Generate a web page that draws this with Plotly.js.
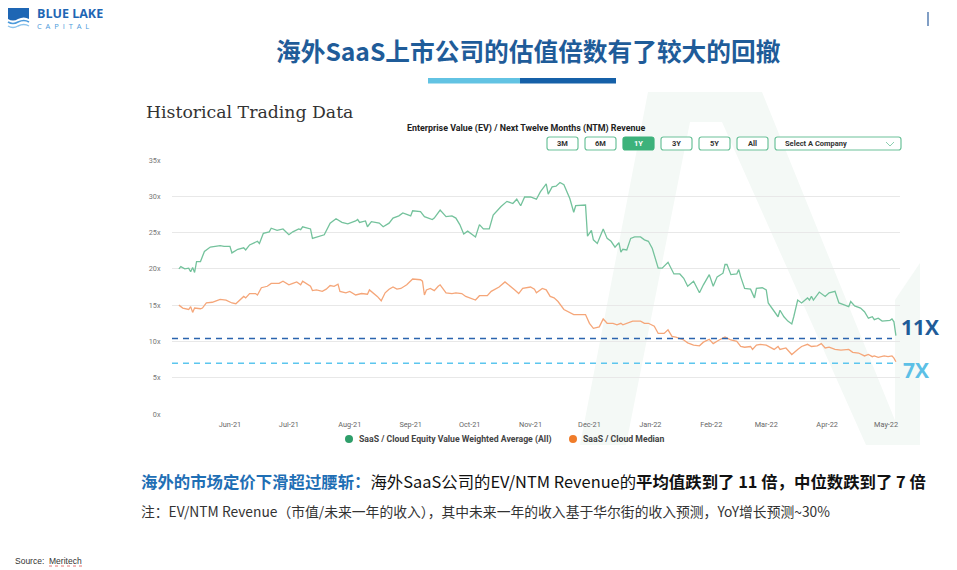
<!DOCTYPE html>
<html><head><meta charset="utf-8">
<script src="https://cdn.plot.ly/plotly-3.0.1.min.js"></script>
<style>html,body{margin:0;padding:0;background:#fff}#c{width:957px;height:570px}</style>
</head><body><div id="c"></div>
<script>
// ---------------- DATA ----------------
const seriesNames = ['SaaS / Cloud Equity Value Weighted Average (All)', 'SaaS / Cloud Median'];
const monthTickStart = '2021-06-01';

const avgDates = ['2021-05-06','2021-05-07','2021-05-09','2021-05-11','2021-05-12','2021-05-13','2021-05-14','2021-05-15','2021-05-17','2021-05-18','2021-05-19','2021-05-22','2021-05-24','2021-05-27','2021-05-29',
'2021-06-01','2021-06-02','2021-06-05','2021-06-08','2021-06-09','2021-06-11','2021-06-15','2021-06-16','2021-06-18','2021-06-21','2021-06-22','2021-06-25','2021-06-28',
'2021-07-01','2021-07-03','2021-07-06','2021-07-07','2021-07-08','2021-07-12','2021-07-13','2021-07-16','2021-07-19','2021-07-22','2021-07-25','2021-07-28','2021-07-31',
'2021-08-04','2021-08-05','2021-08-06','2021-08-09','2021-08-10','2021-08-12','2021-08-16','2021-08-18','2021-08-21','2021-08-23','2021-08-26','2021-08-28','2021-08-30',
'2021-09-01','2021-09-02','2021-09-06','2021-09-08','2021-09-12','2021-09-13','2021-09-16','2021-09-19','2021-09-22','2021-09-24','2021-09-26','2021-09-28','2021-09-30',
'2021-10-04','2021-10-06','2021-10-08','2021-10-11','2021-10-13','2021-10-17','2021-10-20','2021-10-23','2021-10-25','2021-10-27','2021-10-29',
'2021-11-01','2021-11-04','2021-11-06','2021-11-09','2021-11-10','2021-11-12','2021-11-14','2021-11-16','2021-11-18','2021-11-21','2021-11-23','2021-11-24','2021-11-29','2021-11-30',
'2021-12-02','2021-12-03','2021-12-05','2021-12-08','2021-12-10','2021-12-12','2021-12-14','2021-12-16','2021-12-17','2021-12-18','2021-12-20','2021-12-22','2021-12-24','2021-12-27','2021-12-29','2021-12-31',
'2022-01-02','2022-01-05','2022-01-07','2022-01-10','2022-01-13','2022-01-16','2022-01-18','2022-01-20','2022-01-23','2022-01-26','2022-01-28','2022-01-31',
'2022-02-02','2022-02-04','2022-02-07','2022-02-08','2022-02-09','2022-02-11','2022-02-14','2022-02-15','2022-02-16','2022-02-18','2022-02-21','2022-02-23','2022-02-24','2022-02-27',
'2022-03-01','2022-03-02','2022-03-05','2022-03-07','2022-03-08','2022-03-10','2022-03-12','2022-03-14','2022-03-15','2022-03-17','2022-03-19','2022-03-22','2022-03-23','2022-03-24','2022-03-25','2022-03-28','2022-03-31',
'2022-04-02','2022-04-05','2022-04-07','2022-04-09','2022-04-12','2022-04-13','2022-04-15','2022-04-18','2022-04-20','2022-04-22','2022-04-24','2022-04-25','2022-04-27','2022-04-29',
'2022-05-01','2022-05-03','2022-05-04','2022-05-05','2022-05-06'];
const avgValues = [20.0,20.3,20.0,20.1,19.6,20.2,19.5,21.0,21.0,21.8,22.4,23.0,23.1,23.2,23.1,
23.1,22.2,22.7,22.9,22.6,23.3,23.8,23.5,24.9,25.1,25.6,25.3,25.5,
24.7,25.1,25.5,25.4,25.8,25.5,24.2,24.4,24.7,26.3,26.9,26.4,26.2,
26.6,26.8,26.4,26.6,25.8,26.5,26.3,25.8,26.3,27.0,27.3,27.7,27.5,
27.3,28.0,27.9,27.2,26.8,27.0,28.1,27.2,27.3,27.0,26.1,24.8,25.2,
24.4,26.1,25.5,25.5,27.4,28.6,29.3,29.0,29.6,28.7,29.9,
29.9,29.6,30.6,31.7,30.3,31.3,31.4,31.9,31.6,29.7,27.8,28.7,28.8,24.5,
25.3,24.0,23.5,25.5,24.2,23.8,23.0,23.6,22.3,22.7,22.6,24.2,24.4,24.4,24.0,23.8,
22.8,20.1,20.1,20.9,19.3,19.3,18.7,17.6,18.3,16.7,17.8,19.2,
17.6,18.9,19.4,20.6,20.6,19.2,19.3,19.9,18.9,17.3,17.2,16.0,17.3,17.4,
17.1,15.3,14.1,13.4,14.3,13.4,12.8,12.4,13.4,15.7,15.3,16.0,15.7,16.2,15.7,16.8,16.2,
16.7,16.9,15.3,15.1,14.8,15.5,14.9,14.6,14.1,13.2,13.4,13.0,13.2,12.8,
12.8,12.9,13.1,12.7,10.8];

const medDates = ['2021-05-06','2021-05-08','2021-05-11','2021-05-12','2021-05-13','2021-05-14','2021-05-17','2021-05-18','2021-05-20','2021-05-23','2021-05-25','2021-05-27','2021-05-30',
'2021-06-02','2021-06-04','2021-06-06','2021-06-08','2021-06-09','2021-06-11','2021-06-14','2021-06-15','2021-06-17','2021-06-20','2021-06-22','2021-06-26','2021-06-28',
'2021-07-01','2021-07-03','2021-07-05','2021-07-07','2021-07-08','2021-07-12','2021-07-13','2021-07-15','2021-07-18','2021-07-20','2021-07-22','2021-07-24','2021-07-26','2021-07-27','2021-07-30',
'2021-08-01','2021-08-03','2021-08-04','2021-08-07','2021-08-10','2021-08-11','2021-08-12','2021-08-15','2021-08-17','2021-08-19','2021-08-21','2021-08-23','2021-08-25','2021-08-27','2021-08-30',
'2021-09-02','2021-09-06','2021-09-07','2021-09-08','2021-09-09','2021-09-11','2021-09-13','2021-09-15','2021-09-16','2021-09-19','2021-09-22','2021-09-24','2021-09-27','2021-09-29',
'2021-10-04','2021-10-06','2021-10-10','2021-10-12','2021-10-16','2021-10-19','2021-10-22','2021-10-24','2021-10-26','2021-10-28',
'2021-11-01','2021-11-03','2021-11-04','2021-11-07','2021-11-09','2021-11-11','2021-11-13','2021-11-15','2021-11-18','2021-11-23','2021-11-25','2021-11-29',
'2021-12-01','2021-12-03','2021-12-06','2021-12-08','2021-12-10','2021-12-13','2021-12-15','2021-12-17','2021-12-18','2021-12-21','2021-12-23','2021-12-27','2021-12-29','2021-12-31',
'2022-01-03','2022-01-05','2022-01-08','2022-01-10','2022-01-12','2022-01-14','2022-01-18','2022-01-20','2022-01-23','2022-01-26','2022-01-28','2022-01-31',
'2022-02-02','2022-02-05','2022-02-08','2022-02-11','2022-02-14','2022-02-16','2022-02-18','2022-02-21','2022-02-22','2022-02-24','2022-02-26',
'2022-03-01','2022-03-05','2022-03-07','2022-03-08','2022-03-11','2022-03-14','2022-03-17','2022-03-19','2022-03-22','2022-03-24','2022-03-27','2022-03-29','2022-03-31',
'2022-04-02','2022-04-05','2022-04-08','2022-04-12','2022-04-14','2022-04-17','2022-04-20','2022-04-22','2022-04-24','2022-04-25','2022-04-27','2022-04-30',
'2022-05-02','2022-05-04','2022-05-05','2022-05-06'];
const medValues = [15.0,14.6,14.4,14.8,14.0,14.6,14.5,14.6,15.3,15.4,15.6,15.8,15.7,
15.3,15.2,15.7,16.2,16.0,16.6,16.6,16.4,17.4,17.6,18.0,18.0,18.3,
17.8,18.0,18.2,17.8,18.3,17.6,17.0,17.1,16.9,17.2,17.7,17.6,17.9,16.9,16.7,
16.9,16.5,16.4,16.6,16.5,17.1,16.9,16.2,15.6,16.7,17.2,17.5,17.2,17.3,17.8,
18.6,18.5,18.3,16.4,17.1,17.3,17.0,17.6,17.8,16.7,16.6,16.7,16.6,16.2,
15.7,16.3,16.3,16.9,17.5,18.2,17.6,17.1,16.6,17.3,
17.5,17.2,16.7,17.3,17.1,16.2,16.0,15.5,14.4,13.7,13.7,13.7,
12.5,11.8,12.0,13.1,12.5,12.5,12.3,12.5,12.3,12.6,12.8,12.8,12.5,12.5,
12.1,11.1,11.1,11.6,10.7,10.6,10.2,9.8,9.5,9.4,9.9,10.3,
9.7,10.2,10.6,10.2,10.0,9.3,9.2,9.3,8.9,9.5,9.6,
9.5,8.9,9.3,8.9,9.1,8.2,8.9,9.3,9.6,9.3,9.4,9.7,9.1,
9.2,8.9,8.8,8.9,8.5,8.4,8.0,8.2,7.9,8.0,7.8,8.0,
7.9,8.0,7.7,7.2];

const avgLevel = 10.4;   // dashed "11X" line
const medLevel = 7.0;    // dashed "7X" line
const levelLabels = ['11X', '7X'];
const rangeButtons = ['3M', '6M', '1Y', '3Y', '5Y', 'All'];
const activeButton = '1Y';

// ---------------- HELPERS ----------------
const W = 957, H = 570;
const X = v => v / W, Y = v => 1 - v / H;
function rr(x0, y0, x1, y1, r) {
  const p = (x, y) => X(x) + ',' + Y(y);
  return 'M' + p(x0 + r, y0) + ' L' + p(x1 - r, y0) + ' Q' + p(x1, y0) + ' ' + p(x1, y0 + r) +
    ' L' + p(x1, y1 - r) + ' Q' + p(x1, y1) + ' ' + p(x1 - r, y1) + ' L' + p(x0 + r, y1) +
    ' Q' + p(x0, y1) + ' ' + p(x0, y1 - r) + ' L' + p(x0, y0 + r) + ' Q' + p(x0, y0) + ' ' + p(x0 + r, y0) + ' Z';
}
function poly(pts) { return 'M' + pts.map(q => X(q[0]) + ',' + Y(q[1])).join(' L') + ' Z'; }
function pth(str) {
  return str.replace(/(-?\d+\.?\d*),(-?\d+\.?\d*)/g, (m, a, b) => X(+a) + ',' + Y(+b));
}

const CJK = '"Noto Sans CJK SC", "Noto Sans", sans-serif';
const RB = 'Roboto, "Open Sans", sans-serif';

const shapes = [];
const ann = [];

// watermark (very faint)
const wm = '#F4F9F6';
shapes.push({type: 'path', xref: 'paper', yref: 'paper', layer: 'below',
  path: poly([[580, 445], [648, 92], [762, 92], [905, 445], [866, 445], [722, 122], [690, 122], [626, 445]]), fillcolor: wm, line: {width: 0}});
shapes.push({type: 'path', xref: 'paper', yref: 'paper', layer: 'below',
  path: poly([[895, 300], [920, 263], [920, 445], [895, 445]]), fillcolor: wm, line: {width: 0}});

// logo
shapes.push({type: 'path', xref: 'paper', yref: 'paper', path: pth('M8,8 L29,8 L29,19 Q24,16 18,19 Q13,22 8,19 Z'), fillcolor: '#1E66B4', line: {width: 0}});
shapes.push({type: 'path', xref: 'paper', yref: 'paper', path: pth('M8,22 Q13,25 18,22 Q24,19 29,22'), line: {color: '#4C9ADB', width: 1.6}});
shapes.push({type: 'path', xref: 'paper', yref: 'paper', path: pth('M8,26 Q13,29 18,26 Q24,23 29,26'), line: {color: '#8CC3EC', width: 1.4}});
ann.push({x: X(35), y: Y(14), xanchor: 'left', yanchor: 'middle', text: '<b>BLUE LAKE</b>', font: {family: '"Open Sans", Roboto, sans-serif', size: 12.5, color: '#1E66B4'}, showarrow: false});
ann.push({x: X(35), y: Y(26), xanchor: 'left', yanchor: 'middle', text: 'C  A  P  I  T  A  L', font: {family: '"Open Sans", sans-serif', size: 7.5, color: '#4C9ADB'}, showarrow: false});
shapes.push({type: 'line', xref: 'paper', yref: 'paper', x0: X(928), x1: X(928), y0: Y(12), y1: Y(26), line: {color: '#2C5E9E', width: 1.2}});

// main title + underline bar
ann.push({x: X(528), y: Y(50), xanchor: 'center', yanchor: 'middle', text: '<b>海外SaaS上市公司的估值倍数有了较大的回撤</b>', font: {family: CJK, size: 24.7, color: '#1F5C99'}, showarrow: false});
shapes.push({type: 'rect', xref: 'paper', yref: 'paper', x0: X(428), x1: X(520), y0: Y(83.5), y1: Y(78), fillcolor: '#62C3E3', line: {width: 0}});
shapes.push({type: 'rect', xref: 'paper', yref: 'paper', x0: X(520), x1: X(616), y0: Y(83.5), y1: Y(78), fillcolor: '#1560A8', line: {width: 0}});

// chart headings
ann.push({x: X(144), y: Y(112), xanchor: 'left', yanchor: 'middle', text: 'Historical Trading Data', font: {family: '"DejaVu Serif", "Liberation Serif", serif', size: 17.3, color: '#333333'}, showarrow: false});
ann.push({x: X(526), y: Y(128), xanchor: 'center', yanchor: 'middle', text: '<b>Enterprise Value (EV) / Next Twelve Months (NTM) Revenue</b>', font: {family: RB, size: 8.9, color: '#222'}, showarrow: false});

// range buttons
const btnX = [[547, 578], [585, 616], [623, 654], [661, 692], [699, 730], [737, 768]];
rangeButtons.forEach((b, i) => {
  const on = b === activeButton;
  shapes.push({type: 'path', xref: 'paper', yref: 'paper', path: rr(btnX[i][0], 137, btnX[i][1], 150, 2.5), fillcolor: on ? '#3DB27B' : '#FFFFFF', line: {color: on ? '#3DB27B' : '#6CC29A', width: 1.2}});
  ann.push({x: X((btnX[i][0] + btnX[i][1]) / 2), y: Y(143.5), xanchor: 'center', yanchor: 'middle', text: '<b>' + b + '</b>', font: {family: RB, size: 7.5, color: on ? '#FFFFFF' : '#333'}, showarrow: false});
});
shapes.push({type: 'path', xref: 'paper', yref: 'paper', path: rr(775, 137, 901, 150, 2.5), fillcolor: '#FFFFFF', line: {color: '#6CC29A', width: 1.2}});
ann.push({x: X(783), y: Y(143.5), xanchor: 'left', yanchor: 'middle', text: '<b>Select A Company</b>', font: {family: RB, size: 7.5, color: '#333'}, showarrow: false});
shapes.push({type: 'path', xref: 'paper', yref: 'paper', path: pth('M886,142 L890,146 L894,142'), line: {color: '#8CCFB0', width: 1}});

// reference levels (dashed), measured on the y axis
shapes.push({type: 'line', xref: 'paper', yref: 'y', x0: X(172), x1: X(892), y0: avgLevel, y1: avgLevel, line: {color: '#2B64AE', width: 1.6, dash: '6px,5px'}});
shapes.push({type: 'line', xref: 'paper', yref: 'y', x0: X(172), x1: X(893), y0: medLevel, y1: medLevel, line: {color: '#5CC6EE', width: 1.4, dash: '6px,5px'}});
ann.push({x: X(899), y: avgLevel, yref: 'y', xanchor: 'left', yanchor: 'middle', yshift: 12, text: '<b>' + levelLabels[0] + '</b>', font: {family: '"Open Sans", "Noto Sans", sans-serif', size: 21, color: '#1F5C99'}, showarrow: false});
ann.push({x: X(901), y: medLevel, yref: 'y', xanchor: 'left', yanchor: 'middle', yshift: -7, text: '<b>' + levelLabels[1] + '</b>', font: {family: '"Open Sans", "Noto Sans", sans-serif', size: 21, color: '#5CC0E6'}, showarrow: false});

// legend
shapes.push({type: 'circle', xref: 'paper', yref: 'paper', x0: X(345), x1: X(353), y0: Y(443), y1: Y(435), fillcolor: '#2E9E6A', line: {width: 0}});
ann.push({x: X(357), y: Y(439), xanchor: 'left', yanchor: 'middle', text: '<b>' + seriesNames[0] + '</b>', font: {family: RB, size: 8.7, color: '#444'}, showarrow: false});
shapes.push({type: 'circle', xref: 'paper', yref: 'paper', x0: X(569), x1: X(577), y0: Y(443), y1: Y(435), fillcolor: '#F07C2A', line: {width: 0}});
ann.push({x: X(581), y: Y(439), xanchor: 'left', yanchor: 'middle', text: '<b>' + seriesNames[1] + '</b>', font: {family: RB, size: 8.7, color: '#444'}, showarrow: false});

// bottom texts
ann.push({x: X(139), y: Y(481), xanchor: 'left', yanchor: 'middle',
  text: '<b><span style="color:#1F6FB5">海外的市场定价下滑超过腰斩：</span></b>海外SaaS公司的EV/NTM Revenue的<b>平均值跌到了 11 倍，中位数跌到了 7 倍</b>',
  font: {family: CJK, size: 16.4, color: '#111'}, showarrow: false});
ann.push({x: X(139), y: Y(511), xanchor: 'left', yanchor: 'middle',
  text: '注：EV/NTM Revenue（市值/未来一年的收入），其中未来一年的收入基于华尔街的收入预测，YoY增长预测~30%',
  font: {family: CJK, size: 13.8, color: '#333'}, showarrow: false});
ann.push({x: X(13), y: Y(561), xanchor: 'left', yanchor: 'middle', text: 'Source:  Meritech', font: {family: '"Liberation Sans", "Noto Sans", sans-serif', size: 8.5, color: '#333'}, showarrow: false});
shapes.push({type: 'line', xref: 'paper', yref: 'paper', x0: X(49), x1: X(83), y0: Y(566), y1: Y(566), line: {color: '#E05050', width: 0.8, dash: 'dot'}});

ann.forEach(a => { if (!a.xref) a.xref = 'paper'; if (!a.yref) a.yref = 'paper'; });

// ---------------- TRACES ----------------
const traces = [
  {type: 'scatter', mode: 'lines', name: seriesNames[0], x: avgDates, y: avgValues, line: {color: '#74C29C', width: 1.3}, hoverinfo: 'skip'},
  {type: 'scatter', mode: 'lines', name: seriesNames[1], x: medDates, y: medValues, line: {color: '#F5A679', width: 1.3}, hoverinfo: 'skip'}
];

const layout = {
  width: W, height: H,
  margin: {l: 0, r: 0, t: 0, b: 0},
  paper_bgcolor: '#FFFFFF', plot_bgcolor: 'rgba(0,0,0,0)',
  showlegend: false,
  xaxis: {
    type: 'date', domain: [X(172), X(900)],
    range: ['2021-05-02 12:00', '2022-05-08 02:00'],
    tick0: monthTickStart, dtick: 'M1', tickformat: '%b-%y',
    showgrid: false, zeroline: false, showline: false,
    ticks: 'outside', ticklen: 3, tickcolor: 'rgba(0,0,0,0)',
    tickfont: {family: RB, size: 7.3, color: '#666'}
  },
  yaxis: {
    domain: [Y(414), Y(160)], range: [0, 35], dtick: 5, ticksuffix: 'x',
    showgrid: true, gridcolor: '#E8E8E8', gridwidth: 1, zeroline: false, showline: false,
    ticks: 'outside', ticklen: 9, tickcolor: 'rgba(0,0,0,0)',
    tickfont: {family: RB, size: 7.3, color: '#777'}
  },
  shapes: shapes,
  annotations: ann
};

Plotly.newPlot('c', traces, layout, {displayModeBar: false, staticPlot: true});
</script>
</body></html>
